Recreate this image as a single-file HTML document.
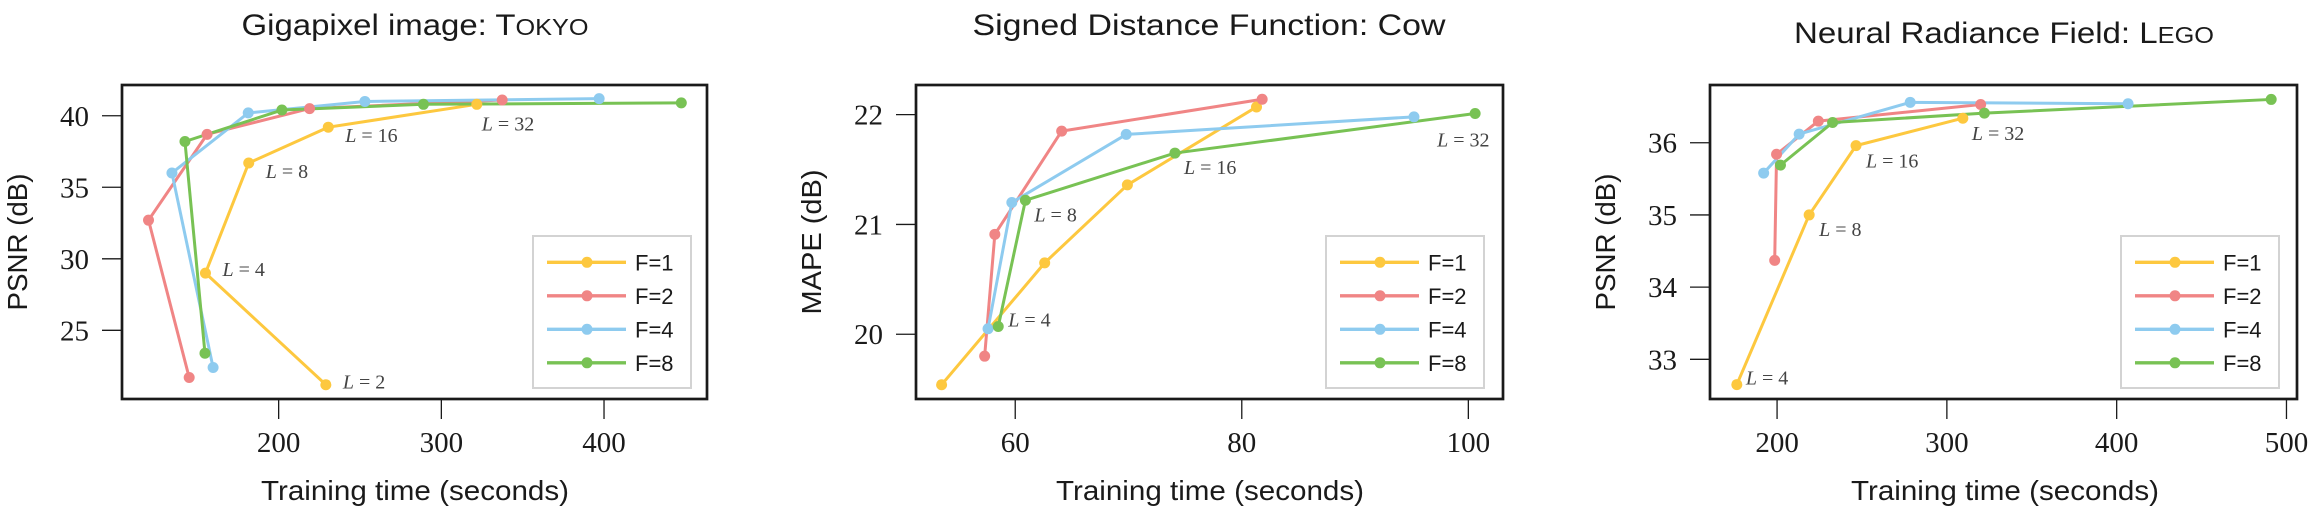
<!DOCTYPE html>
<html><head><meta charset="utf-8">
<style>
html,body{margin:0;padding:0;background:#fff;}
svg{display:block;}
text{font-family:"Liberation Sans",sans-serif;fill:#1a1a1a;}
.tick{font-family:"Liberation Serif",serif;font-size:29px;}
.lab{font-family:"Liberation Serif",serif;font-size:20px;fill:#444;}
</style></head>
<body>
<svg id="fig" width="2310" height="513" viewBox="0 0 2310 513" xmlns="http://www.w3.org/2000/svg"></svg>
<script>
// ---- Chart 1: Gigapixel Tokyo ----
const tokyoF1x=[229,155,181.6,230.5,321.8];
const tokyoF1y=[21.2,29.0,36.7,39.2,40.8];
const tokyoF2x=[145,120,156,219,337.4];
const tokyoF2y=[21.7,32.7,38.7,40.5,41.1];
const tokyoF4x=[159.7,134.4,181.3,253,397];
const tokyoF4y=[22.4,36.0,40.2,41.0,41.2];
const tokyoF8x=[154.7,142.4,202,289,447.5];
const tokyoF8y=[23.4,38.2,40.4,40.8,40.9];
const tokyoXTicks=[200,300,400];
const tokyoYTicks=[25,30,35,40];
const tokyoLabels=["L = 2","L = 4","L = 8","L = 16","L = 32"];
// ---- Chart 2: SDF Cow ----
const cowF1x=[53.5,62.6,69.9,81.3];
const cowF1y=[19.54,20.65,21.36,22.07];
const cowF2x=[57.3,58.2,64.1,81.8];
const cowF2y=[19.80,20.91,21.85,22.14];
const cowF4x=[57.6,59.7,69.8,95.2];
const cowF4y=[20.05,21.20,21.82,21.98];
const cowF8x=[58.5,60.9,74.1,100.6];
const cowF8y=[20.07,21.22,21.65,22.01];
const cowXTicks=[60,80,100];
const cowYTicks=[20,21,22];
const cowLabels=["L = 4","L = 8","L = 16","L = 32"];
// ---- Chart 3: NeRF Lego ----
const legoF1x=[176.3,218.9,246.5,309.4];
const legoF1y=[32.65,35.0,35.96,36.34];
const legoF2x=[198.6,199.7,224.3,319.9];
const legoF2y=[34.37,35.84,36.30,36.53];
const legoF4x=[192.1,213,278.4,406.7];
const legoF4y=[35.58,36.12,36.56,36.54];
const legoF8x=[202,232.7,322.1,491];
const legoF8y=[35.69,36.28,36.41,36.6];
const legoXTicks=[200,300,400,500];
const legoYTicks=[33,34,35,36];
const legoLabels=["L = 4","L = 8","L = 16","L = 32"];

const seriesNames=["F=1","F=2","F=4","F=8"];
const colors=["#fdc83f","#f08585","#8ecbef","#78c254"];
const NS="http://www.w3.org/2000/svg";
const svg=document.getElementById('fig');
function mk(tag,attrs,parent){const e=document.createElementNS(NS,tag);for(const k in attrs)e.setAttribute(k,attrs[k]);(parent||svg).appendChild(e);return e;}

const charts=[
 {key:'tokyo',L:122,R:707,T:85,B:399,x0:103.7,x1:463.3,y0:20.2,y1:42.15,
  xs:[tokyoF1x,tokyoF2x,tokyoF4x,tokyoF8x],ys:[tokyoF1y,tokyoF2y,tokyoF4y,tokyoF8y],
  xt:tokyoXTicks,yt:tokyoYTicks,labels:tokyoLabels,labSeries:0,
  labOff:[[17,4],[17,3],[17,15],[17,15],[5,26]],
  title:["Gigapixel image: T","OKYO"],titleCx:415,titleBase:35,titleLen:347,
  ylab:"PSNR (dB)",ylabX:17,ylabLen:137,xlabCx:415,legL:533,legR:691},
 {key:'cow',L:916,R:1503,T:85,B:399,x0:51.24,x1:103.06,y0:19.41,y1:22.27,
  xs:[cowF1x,cowF2x,cowF4x,cowF8x],ys:[cowF1y,cowF2y,cowF4y,cowF8y],
  xt:cowXTicks,yt:cowYTicks,labels:cowLabels,labSeries:3,
  labOff:[[10,0],[9,21],[9,21],[-38,33]],
  title:["Signed Distance Function: Cow",""],titleCx:1209,titleBase:35,titleLen:473,
  ylab:"MAPE (dB)",ylabX:811,ylabLen:145,xlabCx:1210,legL:1326,legR:1484},
 {key:'lego',L:1710,R:2297,T:85,B:399,x0:160.5,x1:506.2,y0:32.45,y1:36.8,
  xs:[legoF1x,legoF2x,legoF4x,legoF8x],ys:[legoF1y,legoF2y,legoF4y,legoF8y],
  xt:legoXTicks,yt:legoYTicks,labels:legoLabels,labSeries:0,
  labOff:[[9,0],[10,21],[10,22],[9,22]],
  title:["Neural Radiance Field: L","EGO"],titleCx:2004,titleBase:43,titleLen:420,
  ylab:"PSNR (dB)",ylabX:1605,ylabLen:137,xlabCx:2005,legL:2121,legR:2279}
];

charts.forEach(c=>{
  const g=mk('g',{});
  
  
  const sx=v=>c.L+(v-c.x0)/(c.x1-c.x0)*(c.R-c.L);
  const sy=v=>c.B-(v-c.y0)/(c.y1-c.y0)*(c.B-c.T);
  // title
  const t=mk('text',{x:c.titleCx,y:c.titleBase,'text-anchor':'middle','font-size':30,textLength:c.titleLen,lengthAdjust:'spacingAndGlyphs'},g);
  
  
  const t1=mk('tspan',{},t);t1.textContent=c.title[0];
  if(c.title[1]){const t2=mk('tspan',{'font-size':23},t);t2.textContent=c.title[1];}
  // x ticks
  c.xt.forEach(v=>{
    const x=sx(v);
    const tk=mk('line',{x1:x,x2:x,y1:c.B,y2:c.B+20,stroke:'#1a1a1a','stroke-width':1.3},g);
    
    
    const tl=mk('text',{x:x,y:452,'text-anchor':'middle',class:'tick'},g);
    
    
    tl.textContent=v;
  });
  c.yt.forEach(v=>{
    const y=sy(v);
    const tk=mk('line',{x1:c.L-20,x2:c.L,y1:y,y2:y,stroke:'#1a1a1a','stroke-width':1.3},g);
    
    
    const tl=mk('text',{x:c.L-33,y:y+10,'text-anchor':'end',class:'tick'},g);
    
    
    tl.textContent=v;
  });
  // axis labels
  const xl=mk('text',{x:c.xlabCx,y:500,'text-anchor':'middle','font-size':28,textLength:308,lengthAdjust:'spacingAndGlyphs'},g);
  
  
  xl.textContent="Training time (seconds)";
  const yl=mk('text',{x:0,y:0,'text-anchor':'middle','font-size':28,textLength:c.ylabLen,lengthAdjust:'spacingAndGlyphs',transform:`translate(${c.ylabX+10},242) rotate(-90)`},g);
  
  
  yl.textContent=c.ylab;
  // clip
  const cp=mk('clipPath',{id:'clip-'+c.key},g);
  mk('rect',{x:c.L,y:c.T,width:c.R-c.L,height:c.B-c.T},cp);
  const pg=mk('g',{'clip-path':`url(#clip-${c.key})`},g);
  // series
  c.xs.forEach((xa,si)=>{
    const ya=c.ys[si];
    const pts=xa.map((x,i)=>sx(x)+','+sy(ya[i])).join(' ');
    const pl=mk('polyline',{points:pts,fill:'none',stroke:colors[si],'stroke-width':3,'stroke-linejoin':'round'},pg);
    
    
  });
  c.xs.forEach((xa,si)=>{
    const ya=c.ys[si];
    xa.forEach((x,i)=>{
      const m=mk('circle',{cx:sx(x),cy:sy(ya[i]),r:5.5,fill:colors[si]},g);
      
      
    });
  });
  // L labels
  const lx=c.xs[c.labSeries],ly=c.ys[c.labSeries];
  c.labels.forEach((s,i)=>{
    const tx=mk('text',{x:sx(lx[i])+c.labOff[i][0],y:sy(ly[i])+c.labOff[i][1],class:'lab'},g);
    
    
    const a=mk('tspan',{'font-style':'italic'},tx);a.textContent='L';
    const b=mk('tspan',{},tx);b.textContent=s.slice(1);
  });
  // frame
  const fr=mk('rect',{x:c.L,y:c.T,width:c.R-c.L,height:c.B-c.T,fill:'none',stroke:'#1a1a1a','stroke-width':2.7},g);
  
  
  // legend
  const lg=mk('g',{},g);
  
  
  mk('rect',{x:c.legL,y:236,width:c.legR-c.legL,height:152,fill:'#fff',stroke:'#d3d3d3','stroke-width':2},lg);
  seriesNames.forEach((n,si)=>{
    const y=262.3+si*33.5;
    const e=mk('g',{},lg);
    
    
    mk('line',{x1:c.legL+14,x2:c.legL+93,y1:y,y2:y,stroke:colors[si],'stroke-width':3.3},e);
    mk('circle',{cx:c.legL+54,cy:y,r:5.5,fill:colors[si]},e);
    const lt=mk('text',{x:c.legL+102,y:y+8,'font-size':22},e);
    lt.textContent=n;
  });
});
</script>
</body></html>
